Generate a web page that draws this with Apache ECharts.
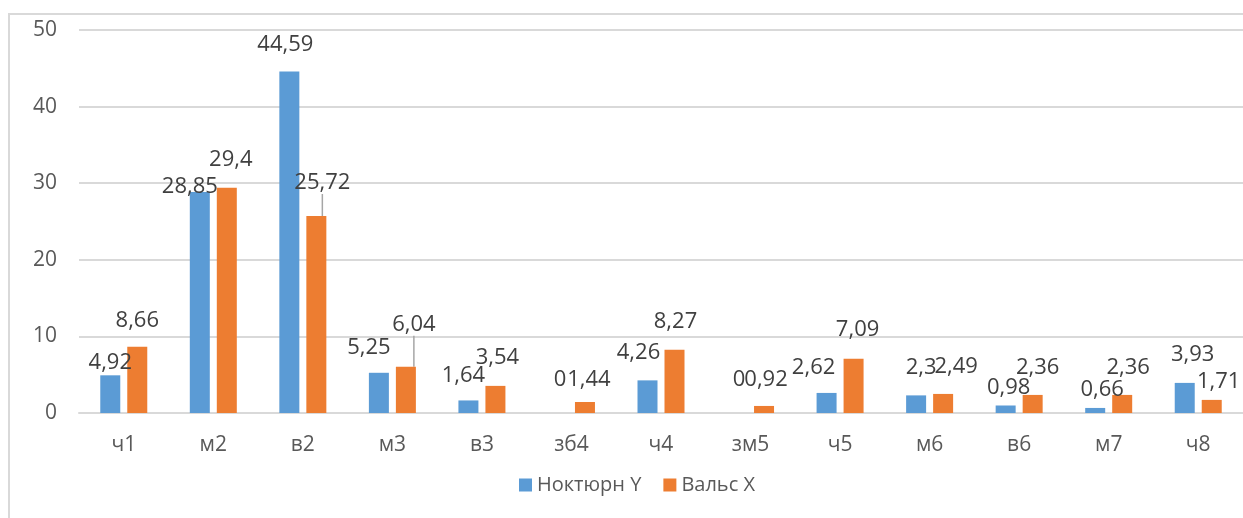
<!DOCTYPE html>
<html>
<head>
<meta charset="utf-8">
<script src="https://cdn.jsdelivr.net/npm/echarts@6/dist/echarts.min.js"></script>
<style>
  html, body { margin: 0; padding: 0; background: #fff; }
  #chart { width: 1243px; height: 518px; }
</style>
</head>
<body>
<div id="chart"></div>
<script>
// Categories and series values
const categories = ['ч1', 'м2', 'в2', 'м3', 'в3', 'зб4', 'ч4', 'зм5', 'ч5', 'м6', 'в6', 'м7', 'ч8'];
const nocturneY = [4.92, 28.85, 44.59, 5.25, 1.64, 0, 4.26, 0, 2.62, 2.3, 0.98, 0.66, 3.93];
const waltzX = [8.66, 29.4, 25.72, 6.04, 3.54, 1.44, 8.27, 0.92, 7.09, 2.49, 2.36, 2.36, 1.71];
const yTicks = { min: 0, max: 50, interval: 10 };

// Label nudges (pixels) so neighbouring value labels stay readable
const nocturneShift = [[0, 2], [-10, 10], [-4, -12], [-10, -10], [-5, -10], [2, -18], [-9, -13], [2, -18], [-13, -10], [5, -13], [3, -3], [7, -3], [8, -13]];
const waltzShift = [[0, -11], [4, -13], [6, -18], [8, -27], [2, -13], [4, -7], [1, -13], [2, -11], [4, -14], [13, -12], [5, -12], [6, -12], [7, -3]];
const waltzLeader = [2, 3];

const FONT = '"Open Sans", "Noto Sans", sans-serif';
const fmt = p => String(p.value).replace('.', ',');

function buildData(values, leaders) {
  return values.map((v, i) => leaders && leaders.includes(i)
    ? { value: v, labelLine: { show: true } }
    : v);
}

function layoutFrom(shifts) {
  return p => ({ dx: shifts[p.dataIndex][0], dy: shifts[p.dataIndex][1] });
}

const chart = echarts.init(document.getElementById('chart'), null, { renderer: 'canvas' });

const valueLabel = {
  show: true, position: 'top', distance: 4,
  color: '#404040', fontSize: 22, fontFamily: FONT, formatter: fmt
};

chart.setOption({
  animation: false,
  backgroundColor: '#ffffff',
  textStyle: { fontFamily: FONT },
  graphic: [
    {
      type: 'polyline',
      shape: { points: [[9, 600], [9, 14], [1300, 14]] },
      style: { stroke: '#d9d9d9', lineWidth: 2, fill: null },
      silent: true
    }
  ],
  grid: { left: 79, right: 0, top: 30, bottom: 105 },
  legend: {
    bottom: 18,
    left: 514,
    itemWidth: 13,
    itemHeight: 13,
    itemGap: 22,
    icon: 'rect',
    textStyle: { color: '#595959', fontSize: 20, fontFamily: FONT },
    data: ['Ноктюрн Y', 'Вальс X']
  },
  xAxis: {
    type: 'category',
    data: categories,
    axisLine: { lineStyle: { color: '#d9d9d9', width: 2 } },
    axisTick: { show: false },
    axisLabel: { color: '#595959', fontSize: 21, margin: 22, fontFamily: FONT }
  },
  yAxis: {
    type: 'value',
    min: yTicks.min,
    max: yTicks.max,
    interval: yTicks.interval,
    axisLine: { show: false },
    axisTick: { show: false },
    axisLabel: { color: '#595959', fontSize: 21, margin: 22, fontFamily: FONT },
    splitLine: { lineStyle: { color: '#d9d9d9', width: 2 } }
  },
  series: [
    {
      name: 'Ноктюрн Y',
      type: 'bar',
      data: buildData(nocturneY),
      barWidth: 20,
      barGap: '35%',
      itemStyle: { color: '#5b9bd5' },
      label: valueLabel,
      labelLayout: layoutFrom(nocturneShift)
    },
    {
      name: 'Вальс X',
      type: 'bar',
      data: buildData(waltzX, waltzLeader),
      barWidth: 20,
      barGap: '35%',
      itemStyle: { color: '#ed7d31' },
      label: valueLabel,
      labelLine: { show: false, lineStyle: { color: '#a6a6a6', width: 1.5 } },
      labelLayout: layoutFrom(waltzShift)
    }
  ]
});
</script>
</body>
</html>
